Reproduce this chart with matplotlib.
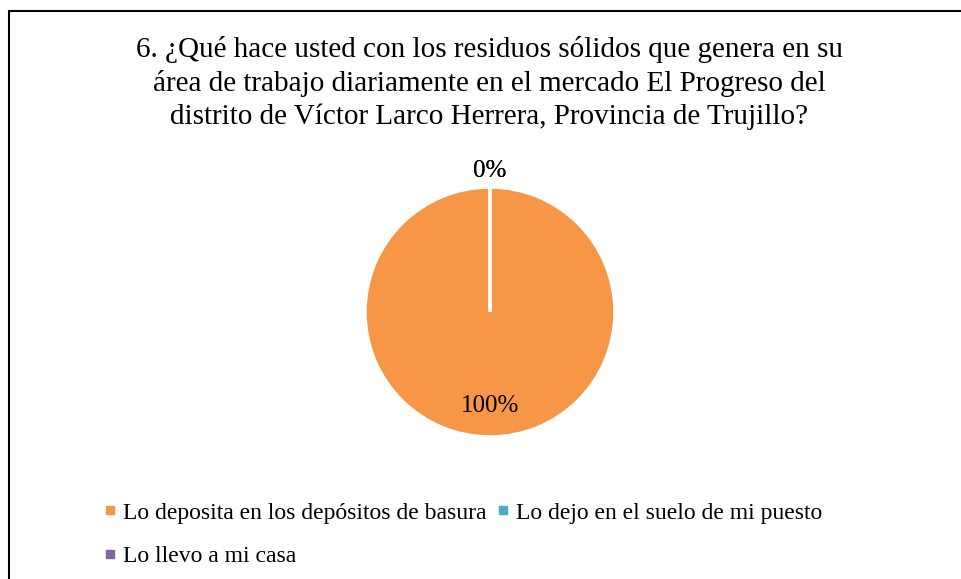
import numpy as np
import matplotlib.pyplot as plt
from matplotlib.patches import Rectangle
from matplotlib.lines import Line2D

# data
categories = ['Lo deposita en los depósitos de basura',
              'Lo dejo en el suelo de mi puesto',
              'Lo llevo a mi casa']
percentages = [100, 0, 0]
colors = ['#F79646', '#4BACC6', '#8064A2']
title = ('6. ¿Qué hace usted con los residuos sólidos que genera en su\n'
         'área de trabajo diariamente en el mercado El Progreso del\n'
         'distrito de Víctor Larco Herrera, Provincia de Trujillo?')

plt.rcParams['font.family'] = ['Liberation Serif', 'DejaVu Serif']

W, H = 961, 579
fig = plt.figure(figsize=(W / 100, H / 100), dpi=100)

# chart border (right and bottom edges run off the image)
fig.patches.append(Rectangle((9 / W, -0.1), 1.2, 1.1 - 11.5 / H, transform=fig.transFigure,
                             fill=False, edgecolor='black', linewidth=1.5, clip_on=False))

fig.text(489 / W, 1 - 83 / H, title, ha='center', va='center', fontsize=21, linespacing=1.33)

# pie area: center (490, 312), radius 125 px
cx, cy, r = 490, 312, 125
ax = fig.add_axes([(cx - r) / W, 1 - (cy + r) / H, 2 * r / W, 2 * r / H])
wedges, _ = ax.pie(percentages, colors=colors, startangle=90, counterclock=False,
                   wedgeprops={'edgecolor': 'white', 'linewidth': 2.5})
ax.set_xlim(-1, 1)
ax.set_ylim(-1, 1)
ax.set_aspect('equal')
ax.axis('off')

for w, p in zip(wedges, percentages):
    mid = np.deg2rad((w.theta1 + w.theta2) / 2)
    dist = 0.75 if p > 0 else 1.13
    ax.text(dist * np.cos(mid), dist * np.sin(mid), f'{p}%', ha='center', va='center',
            fontsize=18, clip_on=False)

handles = [Line2D([], [], linestyle='none', marker='s', markersize=6, color=c,
                  markeredgecolor=c) for c in colors]
order = [0, 2, 1]
fig.legend([handles[i] for i in order], [categories[i] for i in order], ncol=2,
           loc='upper left', bbox_to_anchor=(103 / W, 1 - 502 / H), frameon=False,
           fontsize=17, handlelength=0.6, handletextpad=0.25, columnspacing=0.4,
           labelspacing=0.92, borderaxespad=0, borderpad=0)

fig.savefig('out.png', dpi=100)
